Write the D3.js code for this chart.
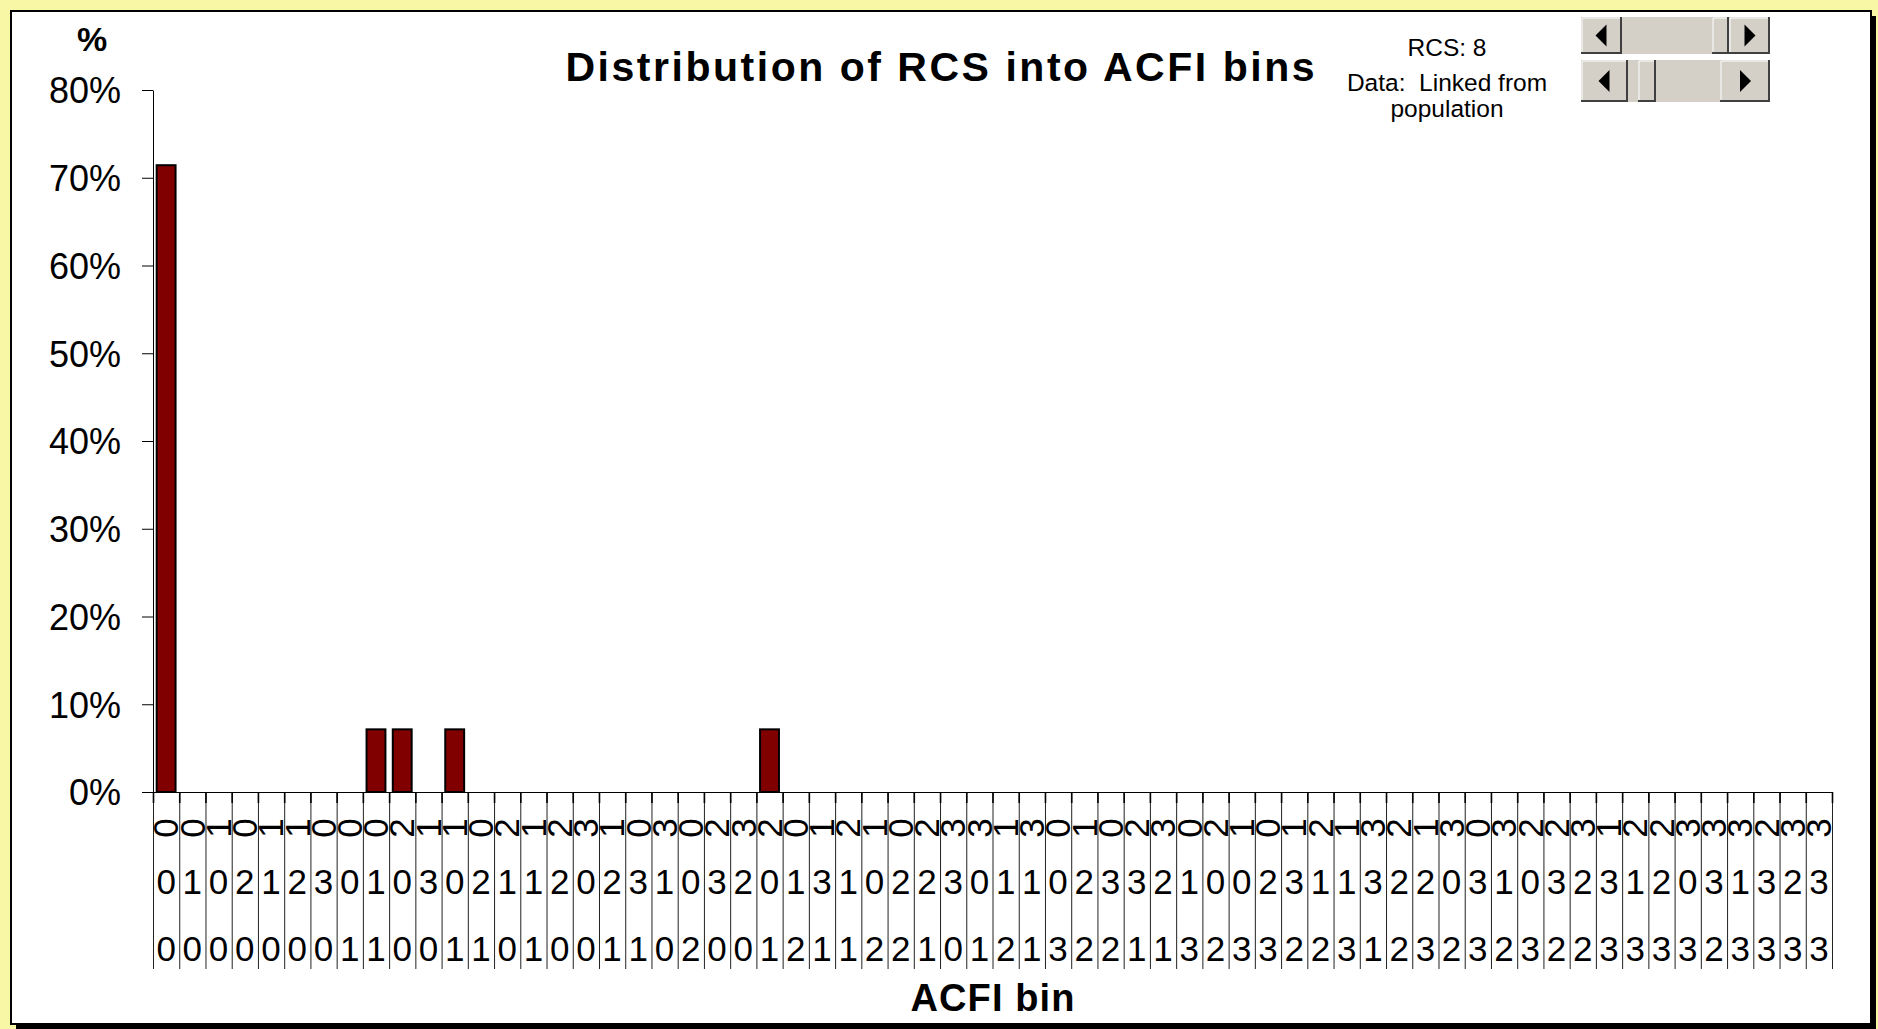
<!DOCTYPE html>
<html lang="en">
<head>
<meta charset="utf-8">
<script src="https://d3js.org/d3.v7.min.js"></script>
<style>
  body { margin: 0; background: #f7f7a6; }
  svg { display: block; }
  text { font-family: "Liberation Sans", Arial, sans-serif; fill: #000; }
  .bar { fill: #800000; stroke: #000; stroke-width: 2; }
  .info { white-space: pre; }
</style>
</head>
<body>
<div id="chart"></div>
<script>
// ACFI bins (three digits per bin, read top to bottom under the axis)
var bins = ["000", "010", "100", "020", "110", "120", "030", "001", "011", "200",
            "130", "101", "021", "210", "111", "220", "300", "121", "031", "310",
            "002", "230", "320", "201", "012", "131", "211", "102", "022", "221",
            "330", "301", "112", "311", "003", "122", "032", "231", "321", "013",
            "202", "103", "023", "132", "212", "113", "331", "222", "123", "302",
            "033", "312", "203", "232", "322", "133", "213", "223", "303", "332",
            "313", "233", "323", "333"];

// share of RCS in each bin, %
var shares = [71.43, 0, 0, 0, 0, 0, 0, 0, 7.14, 7.14,
              0, 7.14, 0, 0, 0, 0, 0, 0, 0, 0,
              0, 0, 0, 7.14, 0, 0, 0, 0, 0, 0,
              0, 0, 0, 0, 0, 0, 0, 0, 0, 0,
              0, 0, 0, 0, 0, 0, 0, 0, 0, 0,
              0, 0, 0, 0, 0, 0, 0, 0, 0, 0,
              0, 0, 0, 0];

var yTicks = [0, 10, 20, 30, 40, 50, 60, 70, 80];
var title = "Distribution of RCS into ACFI bins";
var infoLines = ["RCS: 8", "Data:  Linked from", "population"];

var W = 1878, H = 1029;
var margin = {top: 90, right: 46, bottom: 237, left: 153},
    width = W - margin.left - margin.right,
    height = H - margin.top - margin.bottom;

var svg = d3.select("#chart").append("svg")
    .attr("width", W)
    .attr("height", H);

// chart area with its shadow
svg.append("rect")
    .attr("x", 16).attr("y", 16)
    .attr("width", 1860).attr("height", 1013)
    .attr("fill", "#000");
svg.append("rect")
    .attr("x", 11).attr("y", 11)
    .attr("width", 1860).attr("height", 1013)
    .attr("fill", "#fff")
    .attr("stroke", "#000")
    .attr("stroke-width", 2);

var g = svg.append("g")
    .attr("transform", "translate(" + margin.left + "," + margin.top + ")");

var x = d3.scaleBand().domain(bins).range([0, width])
    .paddingInner(0.28).paddingOuter(0.14);
var xEdge = d3.scaleLinear().domain([0, bins.length]).range([0, width]);
var y = d3.scaleLinear().domain([0, 80]).range([height, 0]);

// category borders under the axis
var gEdge = g.append("g")
    .attr("transform", "translate(0," + height + ")")
    .call(d3.axisBottom(xEdge).tickValues(d3.range(bins.length + 1))
      .tickSize(177).tickSizeOuter(0).tickFormat(""));
gEdge.selectAll("line").attr("stroke", "#222");
gEdge.select(".domain").attr("stroke", "#000");

var gTick = g.append("g")
    .attr("transform", "translate(0," + height + ")")
    .call(d3.axisBottom(xEdge).tickValues(d3.range(bins.length + 1))
      .tickSize(11).tickSizeOuter(0).tickFormat(""));
gTick.selectAll("line").attr("stroke", "#000").attr("stroke-width", 1.6);
gTick.select(".domain").remove();

// bin labels
var gX = g.append("g")
    .attr("transform", "translate(0," + height + ")")
    .call(d3.axisBottom(x).tickSize(0).tickFormat(""));
gX.select(".domain").remove();
gX.selectAll(".tick").each(function (d) {
  var t = d3.select(this);
  t.selectAll("text").remove();
  t.append("text")
      .attr("transform", "translate(0,36) rotate(-90)")
      .attr("text-anchor", "middle")
      .attr("dy", "0.35em")
      .style("font-size", "35px")
      .text(d[0]);
  t.append("text")
      .attr("y", 102)
      .attr("text-anchor", "middle")
      .style("font-size", "35px")
      .text(d[1]);
  t.append("text")
      .attr("y", 169)
      .attr("text-anchor", "middle")
      .style("font-size", "35px")
      .text(d[2]);
});

// y axis
var gY = g.append("g")
    .call(d3.axisLeft(y).tickValues(yTicks).tickSize(11).tickSizeOuter(0)
      .tickPadding(21).tickFormat(function (d) { return d + "%"; }));
gY.attr("font-family", null).attr("font-size", null);
gY.selectAll("line").attr("stroke", "#000");
gY.select(".domain").attr("stroke", "#000");
gY.selectAll("text").style("font-size", "36px").attr("dy", "0.36em");

// bars
g.selectAll(".bar")
    .data(bins.map(function (b, i) { return {bin: b, value: shares[i]}; })
      .filter(function (d) { return d.value > 0; }))
    .enter().append("rect")
    .attr("class", "bar")
    .attr("x", function (d) { return x(d.bin); })
    .attr("y", function (d) { return y(d.value); })
    .attr("width", x.bandwidth())
    .attr("height", function (d) { return height - y(d.value); });

// titles
svg.append("text")
    .attr("x", 940).attr("y", 81)
    .attr("text-anchor", "middle")
    .attr("textLength", 749).attr("lengthAdjust", "spacing")
    .style("font-size", "41px").style("font-weight", "bold")
    .text(title);

svg.append("text")
    .attr("x", 92).attr("y", 51)
    .attr("text-anchor", "middle")
    .style("font-size", "34px").style("font-weight", "bold")
    .text("%");

svg.append("text")
    .attr("x", margin.left + width / 2).attr("y", 1011)
    .attr("text-anchor", "middle")
    .attr("textLength", 164).attr("lengthAdjust", "spacing")
    .style("font-size", "38px").style("font-weight", "bold")
    .text("ACFI bin");

svg.selectAll(".info")
    .data(infoLines)
    .enter().append("text")
    .attr("class", "info")
    .attr("x", 1447)
    .attr("y", function (d, i) { return [56, 91, 117][i]; })
    .attr("text-anchor", "middle")
    .style("font-size", "24.5px")
    .text(function (d) { return d; });

// scroll bars
function scrollBar(top, h, leftW, rightW, thumbX, thumbW) {
  var sb = svg.append("g").attr("transform", "translate(1581," + top + ")");
  var w = 189;
  sb.append("rect").attr("width", w).attr("height", h).attr("fill", "#d4d0c8");
  function button(bx, bw) {
    sb.append("rect").attr("x", bx).attr("y", 0).attr("width", bw).attr("height", h)
        .attr("fill", "#d4d0c8");
    sb.append("path")
        .attr("d", "M" + bx + "," + (h - 1) + "H" + (bx + bw - 1) + "V0")
        .attr("fill", "none").attr("stroke", "#404040").attr("stroke-width", 2);
    sb.append("path")
        .attr("d", "M" + (bx + 1) + "," + (h - 2) + "V1H" + (bx + bw - 2))
        .attr("fill", "none").attr("stroke", "#fff").attr("stroke-width", 1);
  }
  button(0, leftW);
  button(w - rightW, rightW);
  button(thumbX, thumbW);
  var cy = h / 2;
  sb.append("path")
      .attr("d", "M" + (leftW / 2 - 6) + "," + cy + "L" + (leftW / 2 + 5) + "," + (cy - 11) +
        "L" + (leftW / 2 + 5) + "," + (cy + 11) + "Z")
      .attr("fill", "#000");
  var rx = w - rightW / 2;
  sb.append("path")
      .attr("d", "M" + (rx + 6) + "," + cy + "L" + (rx - 5) + "," + (cy - 11) +
        "L" + (rx - 5) + "," + (cy + 11) + "Z")
      .attr("fill", "#000");
}
scrollBar(17, 37, 41, 41, 131, 17);
scrollBar(60, 42, 47, 50, 57, 18);
</script>
</body>
</html>
